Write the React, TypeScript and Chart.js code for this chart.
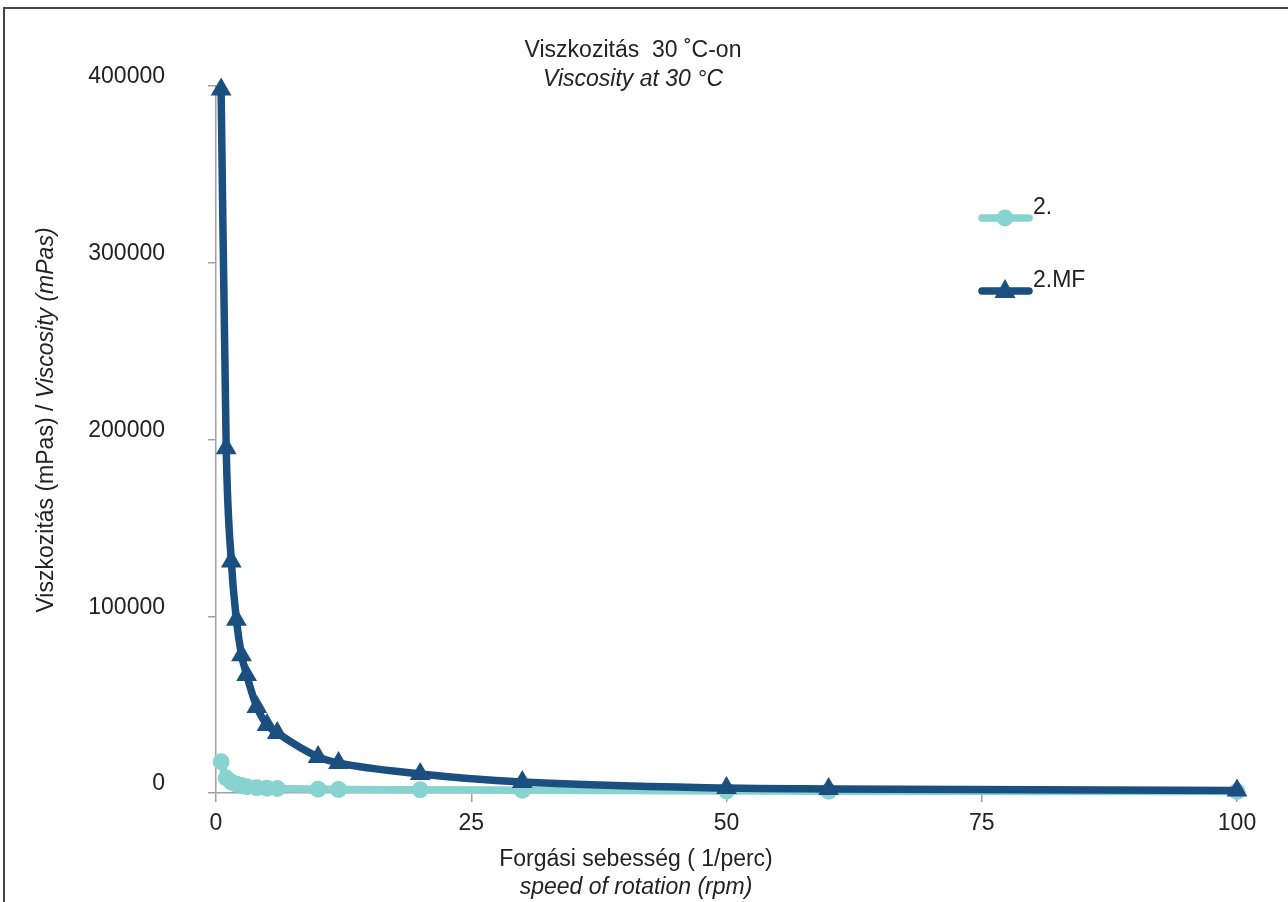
import React, { useEffect, useRef } from "react";
import { Chart, registerables } from "chart.js";

Chart.register(...registerables);

const rpm = [0.5, 1, 1.5, 2, 2.5, 3, 4, 5, 6, 10, 12, 20, 30, 50, 60, 100];
const series2 = [17700, 8500, 6200, 5000, 4200, 3600, 3000, 2700, 2500, 2100, 2000, 1800, 1600, 1200, 1000, 800];
const series2MF = [398000, 195000, 131000, 98000, 78000, 66800, 48700, 38500, 34000, 20400, 17000, 10800, 6200, 2800, 2300, 1400];
const seriesNames = ["2.", "2.MF"];
const xTicks = [0, 25, 50, 75, 100];
const yTicks = [0, 100000, 200000, 300000, 400000];
const titleLines = ["Viszkozitás  30 ˚C-on", "Viscosity at 30 °C"];
const xTitleLines = ["Forgási sebesség ( 1/perc)", "speed of rotation (rpm)"];
const yTitleParts = ["Viszkozitás (mPas) / ", "Viscosity (mPas)"];

const CYAN = "#86d3d0";
const NAVY = "#1b4f80";
const FONT = '"Liberation Sans", Arial, sans-serif';
const TEXT = "#222222";
const AXIS = "#a0a0a0";

const textPlugin = {
  id: "customTexts",
  afterDraw(chart: any) {
    const ctx = chart.ctx;
    ctx.save();
    ctx.fillStyle = TEXT;
    ctx.textAlign = "center";
    ctx.textBaseline = "middle";
    // title
    ctx.font = `23px ${FONT}`;
    ctx.fillText(titleLines[0], 633, 51);
    ctx.font = `italic 23px ${FONT}`;
    ctx.fillText(titleLines[1], 633, 80);
    // x title
    ctx.font = `23px ${FONT}`;
    ctx.fillText(xTitleLines[0], 636, 860);
    ctx.font = `italic 23px ${FONT}`;
    ctx.fillText(xTitleLines[1], 636, 888);
    // y title (rotated, mixed)
    ctx.translate(47, 420);
    ctx.rotate(-Math.PI / 2);
    ctx.font = `23px ${FONT}`;
    const w1 = ctx.measureText(yTitleParts[0]).width;
    ctx.font = `italic 23px ${FONT}`;
    const w2 = ctx.measureText(yTitleParts[1]).width;
    const start = -(w1 + w2) / 2;
    ctx.textAlign = "left";
    ctx.font = `23px ${FONT}`;
    ctx.fillText(yTitleParts[0], start, 0);
    ctx.font = `italic 23px ${FONT}`;
    ctx.fillText(yTitleParts[1], start + w1, 0);
    ctx.restore();

    // legend
    ctx.save();
    const items = [
      { name: seriesNames[0], color: CYAN, style: "circle", y: 218, ty: 208 },
      { name: seriesNames[1], color: NAVY, style: "triangle", y: 291, ty: 281 },
    ];
    items.forEach((it) => {
      ctx.strokeStyle = it.color;
      ctx.lineWidth = 7.5;
      ctx.lineCap = "round";
      ctx.beginPath();
      ctx.moveTo(982, it.y);
      ctx.lineTo(1029, it.y);
      ctx.stroke();
      ctx.fillStyle = it.color;
      ctx.beginPath();
      if (it.style === "circle") {
        ctx.arc(1005, it.y, 8.5, 0, Math.PI * 2);
      } else {
        ctx.moveTo(1005, it.y - 12);
        ctx.lineTo(1015.5, it.y + 7);
        ctx.lineTo(994.5, it.y + 7);
        ctx.closePath();
      }
      ctx.fill();
      ctx.fillStyle = TEXT;
      ctx.font = `23px ${FONT}`;
      ctx.textAlign = "left";
      ctx.textBaseline = "middle";
      ctx.fillText(it.name, 1033, it.ty);
    });
    ctx.restore();
  },
};

export default function App() {
  const ref = useRef<HTMLCanvasElement>(null);
  useEffect(() => {
    if (!ref.current) return;
    const chart = new Chart(ref.current, {
      type: "line",
      data: {
        datasets: [
          {
            label: seriesNames[0],
            data: rpm.map((x, i) => ({ x, y: series2[i] })),
            borderColor: CYAN,
            backgroundColor: CYAN,
            borderWidth: 7.5,
            pointStyle: "circle",
            pointRadius: 8.5,
            pointBorderWidth: 0,
            cubicInterpolationMode: "monotone",
            order: 1,
            clip: false as any,
          },
          {
            label: seriesNames[1],
            data: rpm.map((x, i) => ({ x, y: series2MF[i] })),
            borderColor: NAVY,
            backgroundColor: NAVY,
            borderWidth: 7.5,
            pointStyle: "triangle",
            pointRadius: 12,
            pointBorderWidth: 0,
            cubicInterpolationMode: "monotone",
            order: 0,
            clip: false as any,
          },
        ],
      },
      options: {
        animation: false,
        responsive: false,
        layout: { padding: { top: 86, right: 51, left: 0, bottom: 0 } },
        plugins: {
          legend: { display: false },
          title: { display: false },
          tooltip: { enabled: false },
        },
        scales: {
          x: {
            type: "linear",
            min: 0,
            max: 100,
            afterBuildTicks: (s: any) => {
              s.ticks = xTicks.map((v) => ({ value: v }));
            },
            afterFit: (s: any) => {
              s.height = 109;
            },
            ticks: {
              color: TEXT,
              font: { family: FONT, size: 23 },
              padding: 8,
              maxRotation: 0,
              callback: (v: any) => String(v),
            },
            grid: { drawOnChartArea: false, drawTicks: true, tickLength: 9, color: AXIS, lineWidth: 1.5 },
            border: { color: AXIS, width: 1.5 },
          },
          y: {
            type: "linear",
            min: 0,
            max: 400000,
            afterBuildTicks: (s: any) => {
              s.ticks = yTicks.map((v) => ({ value: v }));
            },
            afterFit: (s: any) => {
              s.width = 216;
            },
            ticks: {
              color: TEXT,
              font: { family: FONT, size: 23 },
              padding: 43,
              labelOffset: -9,
              callback: (v: any) => String(v),
            },
            grid: { drawOnChartArea: false, drawTicks: true, tickLength: 8, color: AXIS, lineWidth: 1.5 },
            border: { color: AXIS, width: 1.5 },
          },
        },
      },
      plugins: [textPlugin],
    } as any);
    return () => chart.destroy();
  }, []);

  return (
    <div style={{ position: "absolute", left: 0, top: 0, width: 1288, height: 902, background: "#fff", overflow: "hidden" }}>
      <canvas ref={ref} width={1288} height={902} style={{ display: "block", width: 1288, height: 902 }} />
      <div
        style={{
          position: "absolute",
          left: 3,
          top: 7,
          right: 0,
          bottom: 0,
          borderTop: "2px solid #444",
          borderLeft: "2px solid #444",
          pointerEvents: "none",
        }}
      />
    </div>
  );
}
